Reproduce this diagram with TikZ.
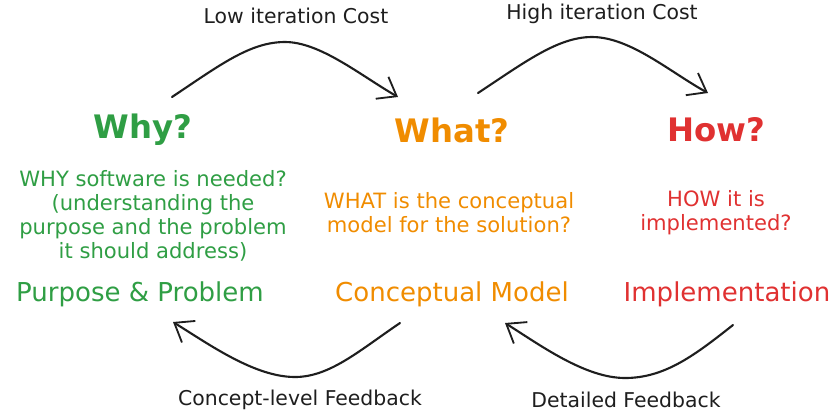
\documentclass[tikz,border=0pt]{standalone}
\usepackage{fontspec}
\setmainfont{DejaVu Sans}
\usepackage{xcolor}
\definecolor{whygreen}{HTML}{2F9E44}
\definecolor{whatorange}{HTML}{F08C00}
\definecolor{howred}{HTML}{E03131}
\definecolor{ink}{HTML}{1E1E1E}
\usetikzlibrary{arrows.meta}

\tikzset{
  title/.style={font=\fontsize{23}{26}\selectfont\bfseries},
  term/.style={font=\fontsize{18.5}{21}\selectfont},
  desc/.style={font=\fontsize{15}{17}\selectfont,align=center},
  cost/.style={font=\fontsize{14.5}{17}\selectfont,text=ink},
  loop/.style={draw=ink,line width=1.5pt,line cap=round,
    -{Straight Barb[length=12pt,width=18pt,line width=1.3pt]}}
}

\begin{document}
\begin{tikzpicture}[x=0.025cm,y=-0.025cm]
\useasboundingbox (0,0) rectangle (834,417);

%%% costs on top
\node[cost] (lowcost) at (296,16) {Low iteration Cost};
\node[cost] (highcost) at (602,14) {High iteration Cost};

%%% three columns
\node[title,text=whygreen] (why) at (143,130) {Why?};
\node[title,text=whatorange] (what) at (452,130) {What?};
\node[title,text=howred] (how) at (716,130) {How?};

\node[desc,text=whygreen] (whydesc) at (153,216)
{WHY software is needed?\\(understanding the\\purpose and the problem\\it should address)};
\node[desc,text=whatorange] (whatdesc) at (449,213)
{WHAT is the conceptual\\model for the solution?};
\node[desc,text=howred] (howdesc) at (716,213)
{HOW it is\\implemented?};

\node[term,text=whygreen] (purpose) at (140,294) {Purpose \& Problem};
\node[term,text=whatorange] (model) at (452,294) {Conceptual Model};
\node[term,text=howred] (impl) at (727,294) {Implementation};

%%% arrow ends and turning points
\coordinate (a1) at (172,97);
\coordinate (a0) at (285,42);
\coordinate (a2) at (398,97);
\coordinate (b1) at (478,93);
\coordinate (b0) at (592,37);
\coordinate (b2) at (708,93);
\coordinate (c1) at (400,323);
\coordinate (c0) at (295,377);
\coordinate (c2) at (173,322);
\coordinate (d1) at (733,325);
\coordinate (d0) at (625,378);
\coordinate (d2) at (505,323);

\draw[loop] (a1) .. controls (220,65) and (250,42) .. (a0)
  .. controls (320,42) and (360,75) .. (a2);
\draw[loop] (b1) .. controls (525,62) and (558,37) .. (b0)
  .. controls (630,37) and (670,72) .. (b2);
\draw[loop] (c1) .. controls (360,350) and (330,377) .. (c0)
  .. controls (255,377) and (210,345) .. (c2);
\draw[loop] (d1) .. controls (695,355) and (665,378) .. (d0)
  .. controls (585,378) and (540,345) .. (d2);

%%% feedback labels
\node[cost] (conceptfb) at (300,400) {Concept-level Feedback};
\node[cost] (detailfb) at (626,400) {Detailed Feedback};

\end{tikzpicture}
\end{document}
